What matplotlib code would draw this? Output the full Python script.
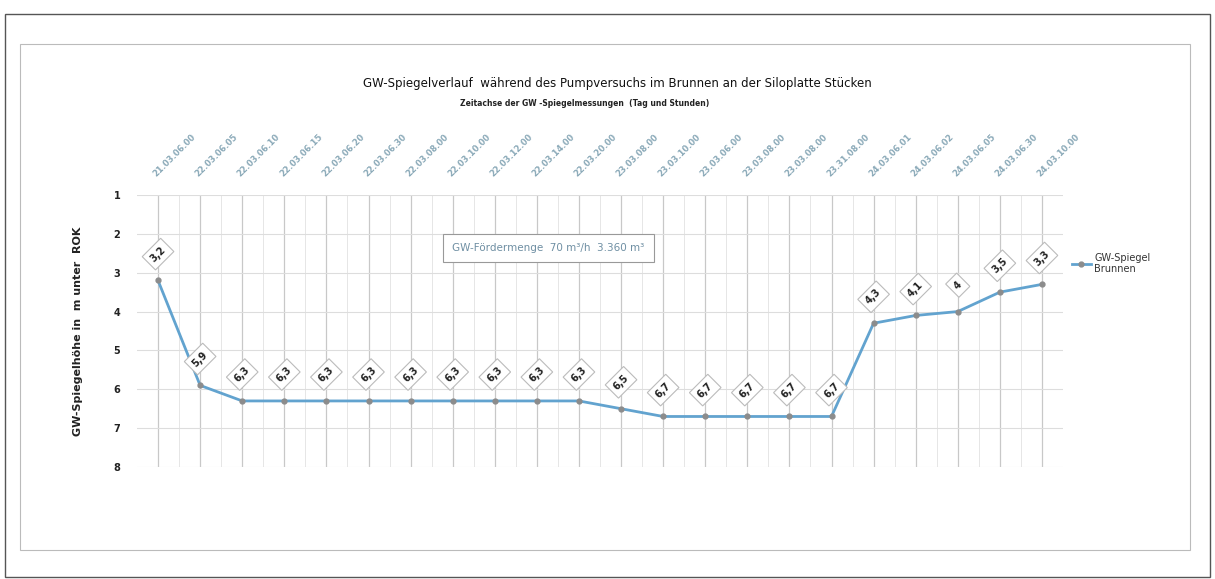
import matplotlib
matplotlib.use("Agg")
import matplotlib.pyplot as plt
from matplotlib.patches import Rectangle

times = ["21.03.06.00", "22.03.06.05", "22.03.06.10", "22.03.06.15", "22.03.06.20",
         "22.03.06.30", "22.03.08.00", "22.03.10.00", "22.03.12.00", "22.03.14.00",
         "22.03.20.00", "23.03.08.00", "23.03.10.00", "23.03.06.00", "23.03.08.00",
         "23.03.08.00", "23.31.08.00", "24.03.06.01", "24.03.06.02", "24.03.06.05",
         "24.03.06.30", "24.03.10.00"]
levels = [3.2, 5.9, 6.3, 6.3, 6.3, 6.3, 6.3, 6.3, 6.3, 6.3, 6.3, 6.5,
          6.7, 6.7, 6.7, 6.7, 6.7, 4.3, 4.1, 4.0, 3.5, 3.3]
level_labels = ["3,2", "5,9", "6,3", "6,3", "6,3", "6,3", "6,3", "6,3", "6,3", "6,3",
                "6,3", "6,5", "6,7", "6,7", "6,7", "6,7", "6,7", "4,3", "4,1", "4",
                "3,5", "3,3"]
y_ticks = [1, 2, 3, 4, 5, 6, 7, 8]

W, H = 1215, 579
fig = plt.figure(figsize=(W / 100, H / 100), dpi=100)
fig.patch.set_facecolor("white")

# outer and inner frames
fig.patches.append(Rectangle((5 / W, 1 - 577 / H), 1205 / W, 563 / H, transform=fig.transFigure,
                             fill=False, edgecolor="#555555", linewidth=1.0))
fig.patches.append(Rectangle((20 / W, 1 - 550 / H), 1170 / W, 506 / H, transform=fig.transFigure,
                             fill=False, edgecolor="#bbbbbb", linewidth=0.8))

ax = fig.add_axes([137 / W, 1 - 467 / H, 926 / W, 272 / H])
x = list(range(len(levels)))
ax.plot(x, levels, color="#62a3cf", linewidth=2.0, marker="o", markersize=3.5,
        markerfacecolor="#8c8c8c", markeredgecolor="#8c8c8c", label="GW-Spiegel\nBrunnen",
        zorder=3)

ax.set_xlim(-0.5, len(levels) - 0.5)
ax.set_ylim(8, 1)
ax.set_yticks(y_ticks)
ax.set_yticklabels([str(v) for v in y_ticks], fontsize=7, fontweight="bold", color="#222222")
ax.set_xticks(x)
ax.set_xticks([i + 0.5 for i in x[:-1]], minor=True)
ax.xaxis.tick_top()
ax.set_xticklabels(times, rotation=45, ha="left", va="bottom", rotation_mode="anchor",
                   fontsize=6, fontweight="bold", color="#8aa9b8")
ax.tick_params(axis="x", which="both", length=0, pad=12)
ax.tick_params(axis="y", length=0, pad=12)
ax.grid(axis="x", which="major", color="#c8c8c8", linewidth=0.9)
ax.grid(axis="x", which="minor", color="#e6e6e6", linewidth=0.7)
ax.grid(axis="y", which="major", color="#dddddd", linewidth=0.8)
for s in ax.spines.values():
    s.set_visible(False)

for xi, yi, lab in zip(x, levels, level_labels):
    ax.annotate(lab, (xi, yi), xytext=(0, 19), textcoords="offset points",
                ha="center", va="center", rotation=45, fontsize=7, fontweight="bold",
                color="#222222",
                bbox=dict(boxstyle="square,pad=0.45", facecolor="white",
                          edgecolor="#bbbbbb", linewidth=0.8), zorder=4)

ax.set_ylabel("GW-Spiegelhöhe in  m unter  ROK", fontsize=8, fontweight="bold",
              color="#222222", labelpad=22)

fig.text(617 / W, 1 - 83 / H,
         "GW-Spiegelverlauf  während des Pumpversuchs im Brunnen an der Siloplatte Stücken",
         ha="center", va="center", fontsize=8.5, color="#111111")
fig.text(585 / W, 1 - 103 / H, "Zeitachse der GW -Spiegelmessungen  (Tag und Stunden)",
         ha="center", va="center", fontsize=5.5, fontweight="bold", color="#222222")

fig.text(548 / W, 1 - 248 / H, "GW-Fördermenge  70 m³/h  3.360 m³", ha="center", va="center",
         fontsize=7.5, color="#6f8fa3",
         bbox=dict(boxstyle="square,pad=0.9", facecolor="white", edgecolor="#999999",
                   linewidth=0.8))

leg = ax.legend(loc="upper left", bbox_to_anchor=(1.0, 0.82), frameon=False, fontsize=7,
                handlelength=2.0, handletextpad=0.3)
for t in leg.get_texts():
    t.set_color("#333333")

fig.savefig("out.png", dpi=100, facecolor="white")
